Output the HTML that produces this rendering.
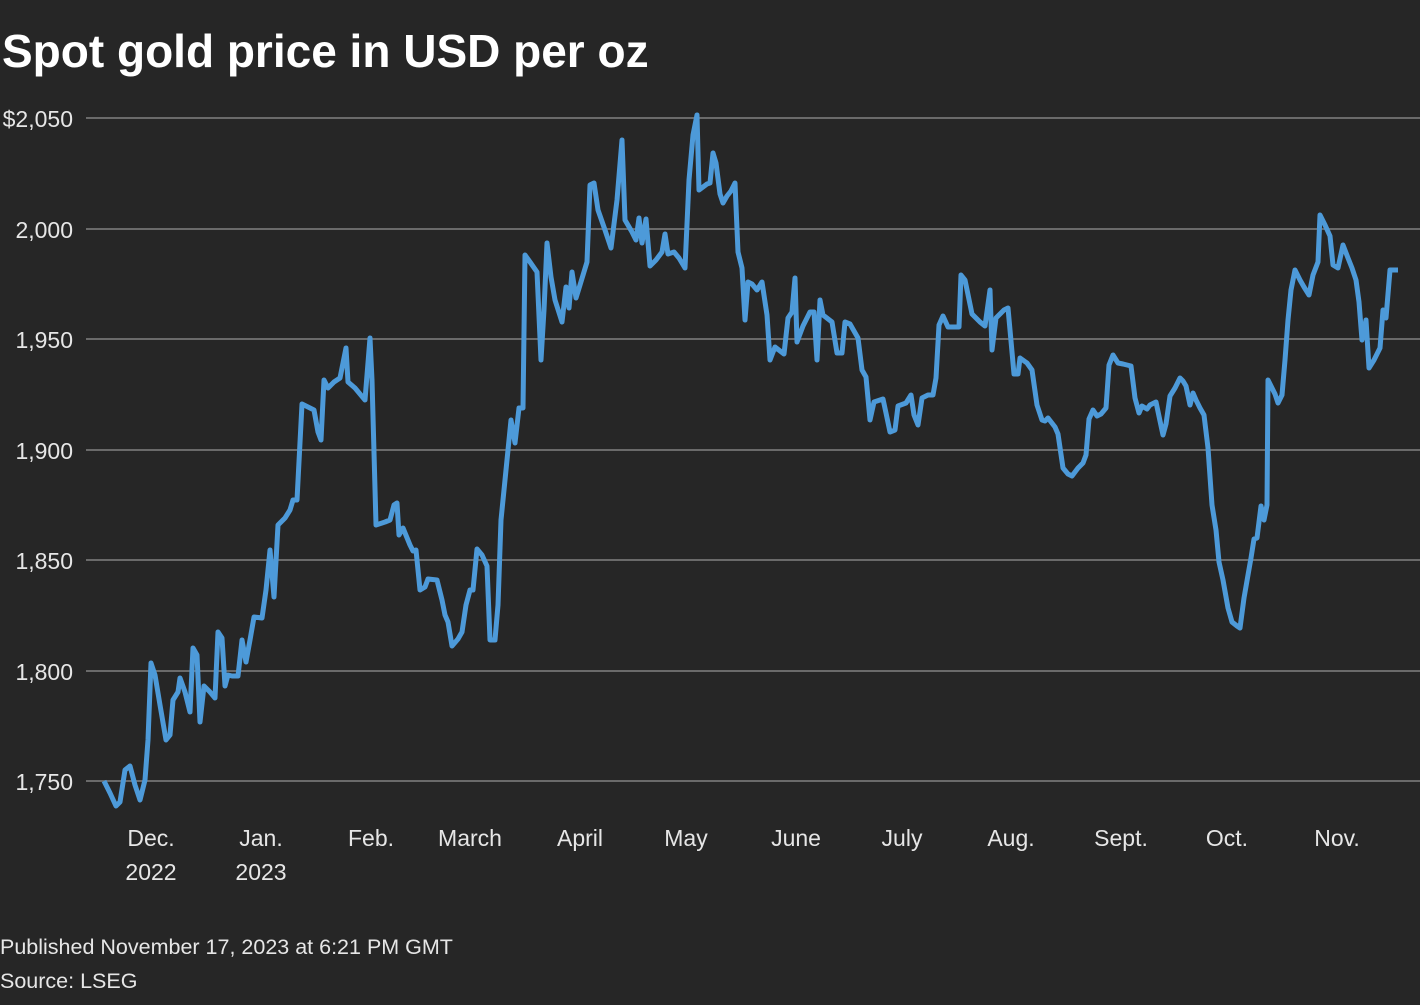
<!DOCTYPE html>
<html><head><meta charset="utf-8"><style>
html,body{margin:0;padding:0;background:#262626;}
body{width:1420px;height:1000px;overflow:hidden;}
svg text{font-family:"Liberation Sans",sans-serif;}
</style></head><body>
<svg width="1420" height="1000" viewBox="0 0 1420 1000">
<rect width="1420" height="1000" fill="#262626"/>
<text x="2" y="67" fill="#fff" font-size="46" font-weight="bold">Spot gold price in USD per oz</text>
<g stroke="#6a6a6a" stroke-width="2">
<line x1="86" x2="1420" y1="118" y2="118"/><line x1="86" x2="1420" y1="229" y2="229"/>
<line x1="86" x2="1420" y1="339" y2="339"/><line x1="86" x2="1420" y1="450" y2="450"/>
<line x1="86" x2="1420" y1="560" y2="560"/><line x1="86" x2="1420" y1="671" y2="671"/>
<line x1="86" x2="1420" y1="781" y2="781"/>
</g>
<g fill="#e6e6e6" font-size="23" text-anchor="end">
<text x="73" y="127">$2,050</text><text x="73" y="238">2,000</text><text x="73" y="348">1,950</text>
<text x="73" y="459">1,900</text><text x="73" y="569">1,850</text><text x="73" y="680">1,800</text>
<text x="73" y="790">1,750</text>
</g>
<g fill="#e6e6e6" font-size="23" text-anchor="middle">
<text x="151" y="846">Dec.</text><text x="151" y="880">2022</text>
<text x="261" y="846">Jan.</text><text x="261" y="880">2023</text>
<text x="371" y="846">Feb.</text><text x="470" y="846">March</text><text x="580" y="846">April</text>
<text x="686" y="846">May</text><text x="796" y="846">June</text><text x="902" y="846">July</text>
<text x="1011" y="846">Aug.</text><text x="1121" y="846">Sept.</text><text x="1227" y="846">Oct.</text>
<text x="1337" y="846">Nov.</text>
</g>
<polyline fill="none" stroke="#4d9ad9" stroke-width="5" stroke-linejoin="round" points="104,781 110,793 116,806 120,802 125,770 130,766 135,785 140,800 145,780 148,740 151,663 155,675 160,705 166,740 170,735 173,700 178,692 180,678 185,692 190,712 193,648 197,655 200,722 204,686 210,692 215,698 218,632 222,638 225,686 228,675 232,676 238,676 242,640 246,662 250,640 254,617 262,618 266,590 270,550 274,597 278,525 285,518 290,510 293,500 297,500 302,404 314,410 318,432 321,440 324,380 328,388 334,382 340,378 346,348 348,382 355,388 360,394 365,400 370,338 372,380 376,525 385,522 390,520 394,505 397,503 399,535 403,528 410,545 413,551 416,550 420,590 425,587 428,579 437,580 442,600 445,615 448,622 452,646 458,639 462,632 466,605 470,590 473,590 477,549 482,555 487,566 490,640 495,640 498,605 501,520 511,420 515,443 519,408 523,408 525,255 530,262 537,272 541,360 544,310 547,243 551,277 555,300 562,322 566,287 569,308 572,272 576,298 580,285 587,262 590,185 594,183 598,210 605,230 611,248 617,200 622,140 625,220 632,232 636,240 639,218 642,243 646,219 650,266 656,260 662,252 665,234 668,254 674,252 679,258 685,268 689,180 693,135 697,115 699,190 707,184 710,183 713,153 716,163 720,194 723,203 727,196 731,191 735,183 738,252 742,268 745,320 748,282 752,284 757,290 762,282 767,315 770,360 775,347 784,354 788,318 792,312 795,278 797,342 803,326 810,312 814,312 817,360 820,300 823,315 832,322 837,353 842,353 845,322 850,324 858,338 862,370 866,377 870,420 874,402 883,399 886,413 890,432 895,430 898,406 906,403 911,395 914,415 918,425 922,398 928,395 933,395 936,378 939,325 943,316 948,327 955,327 959,327 961,275 965,280 972,314 980,322 985,326 990,290 992,350 996,318 1004,310 1008,308 1012,352 1014,374 1018,374 1020,358 1027,363 1032,370 1037,405 1042,420 1045,421 1048,418 1055,427 1058,434 1063,468 1068,474 1072,476 1078,468 1083,463 1086,455 1089,419 1093,410 1097,416 1101,414 1106,408 1109,365 1113,355 1118,363 1123,364 1131,366 1135,398 1139,413 1142,406 1147,409 1150,405 1156,402 1160,421 1163,435 1166,424 1170,396 1175,388 1180,378 1183,381 1186,386 1190,405 1193,393 1196,400 1200,408 1204,415 1208,448 1212,505 1216,530 1219,562 1223,580 1228,608 1232,622 1237,626 1240,628 1244,598 1248,575 1251,558 1254,539 1257,538 1261,506 1264,520 1267,505 1268,380 1275,394 1278,403 1282,395 1285,360 1288,320 1291,290 1295,270 1300,280 1304,287 1309,295 1313,275 1318,262 1320,215 1325,225 1330,236 1333,265 1338,268 1343,245 1348,258 1352,268 1356,280 1359,302 1362,340 1366,320 1369,368 1374,360 1380,348 1383,310 1386,318 1390,270 1398,270"/>
<text x="0" y="954" fill="#e6e6e6" font-size="21.5">Published November 17, 2023 at 6:21 PM GMT</text>
<text x="0" y="988" fill="#e6e6e6" font-size="21.5">Source: LSEG</text>
</svg>
</body></html>
